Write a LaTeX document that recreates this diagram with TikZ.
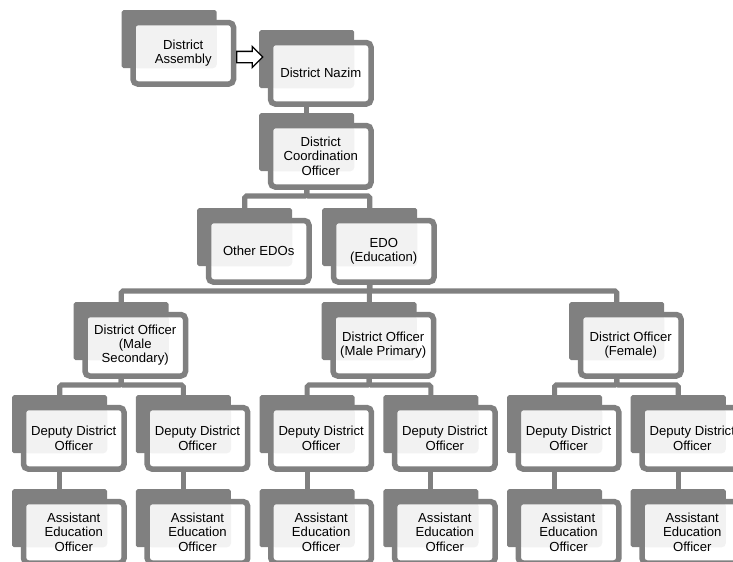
\documentclass[tikz,border=0pt]{standalone}
\usepackage{fontspec}
\setmainfont{Liberation Sans}
\usetikzlibrary{calc,shapes.arrows}
\pgfdeclarelayer{background}
\pgfsetlayers{background,main}

\definecolor{boxdark}{HTML}{808080}
\definecolor{boxlight}{HTML}{F2F2F2}

\tikzset{
  backbox/.style={fill=boxdark, rounded corners=1.5pt, inner sep=0pt,
    minimum width=2.85cm, minimum height=1.74cm, anchor=north west},
  framebox/.style={draw=boxdark, fill=white, line width=4.7pt, rounded corners=4pt,
    inner sep=0pt, minimum width=3.015cm, minimum height=1.845cm, anchor=north west},
  labeltext/.style={align=center, font=\fontsize{11.2}{12.2}\selectfont, text=black},
  conn/.style={draw=boxdark, line width=4.3pt, rounded corners=1.5pt},
  blockarrow/.style={single arrow, draw=black, fill=white, line width=1.1pt,
    minimum height=0.78cm, inner sep=0.15cm, single arrow head extend=0.15cm}
}

% back block, frame and text of one box; #2,#3 = top left of the back block
\newcommand{\orgbox}[4]{%
  \node[backbox] (#1-b) at (#2,#3) {};
  \node[framebox, path picture={\fill[boxlight] (path picture bounding box.north west) rectangle (#1-b.south east);}]
    (#1) at ($(#2,#3)+(8.75,9.75)$) {};
  \node[labeltext] (#1-t) at (#1.center) {#4};
}

\begin{document}
\begin{tikzpicture}[x=0.03cm, y=-0.03cm]
\useasboundingbox (0,0) rectangle (733,561);

\orgbox{asm}{121.5}{10}{District\\Assembly}
\orgbox{nazim}{259}{30}{District Nazim}
\orgbox{dco}{259}{113}{District\\Coordination\\Officer}
\orgbox{oedo}{197}{208}{Other EDOs}
\orgbox{edo}{322}{208}{EDO\\(Education)}
\orgbox{dos}{73.5}{302}{District Officer\\(Male\\Secondary)}
\orgbox{dop}{321.5}{302}{District Officer\\(Male Primary)}
\orgbox{dof}{569}{302}{District Officer\\(Female)}
\foreach \i/\x in {1/12,2/135.7,3/259.4,4/383.1,5/506.8,6/630.5} {
  \orgbox{ddo\i}{\x}{395}{Deputy District\\Officer}
  \orgbox{aeo\i}{\x}{489}{Assistant\\Education\\Officer}
}

\node[blockarrow] (arr) at (247,57) {};

\coordinate (bar1) at (0,196);
\coordinate (bar2) at (0,291);
\coordinate (bar3) at (0,385);

\begin{pgfonlayer}{background}
\draw[conn] (nazim-b.center) -- (dco-b.center);
\draw[conn] (dco-b.center) |- (oedo-b.center |- bar1) -- (oedo-b.center);
\draw[conn] (dco-b.center) |- (edo-b.center |- bar1) -- (edo-b.center);
\draw[conn] (edo-b.center) |- (dos-b.center |- bar2) -- (dos-b.center);
\draw[conn] (edo-b.center) -- (dop-b.center);
\draw[conn] (edo-b.center) |- (dof-b.center |- bar2) -- (dof-b.center);
\draw[conn] (dos-b.center) |- (ddo1-b.center |- bar3) -- (ddo1-b.center);
\draw[conn] (dos-b.center) |- (ddo2-b.center |- bar3) -- (ddo2-b.center);
\draw[conn] (dop-b.center) |- (ddo3-b.center |- bar3) -- (ddo3-b.center);
\draw[conn] (dop-b.center) |- (ddo4-b.center |- bar3) -- (ddo4-b.center);
\draw[conn] (dof-b.center) |- (ddo5-b.center |- bar3) -- (ddo5-b.center);
\draw[conn] (dof-b.center) |- (ddo6-b.center |- bar3) -- (ddo6-b.center);
\foreach \i in {1,...,6}
  \draw[conn] (ddo\i-b.center) -- (aeo\i-b.center);
\end{pgfonlayer}
\end{tikzpicture}
\end{document}
